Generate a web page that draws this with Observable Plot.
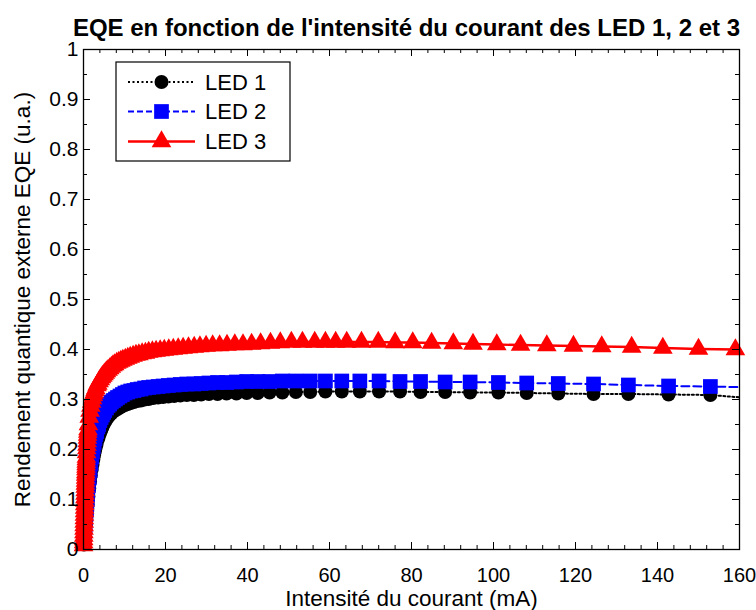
<!DOCTYPE html>
<html><head><meta charset="utf-8">
<script src="https://cdn.jsdelivr.net/npm/d3@7"></script>
<script src="https://cdn.jsdelivr.net/npm/@observablehq/plot@0.6"></script>
<style>
body{margin:0;background:#fff;}
#chart svg{font-family:"Liberation Sans",Arial,sans-serif;}
</style></head><body><div id="chart"></div>
<script>
// Current (mA) sample points, LED 1 and LED 2 share the same sweep
const currentLED12 = [0.1,0.2,0.3,0.4,0.5,0.6,0.7,0.8,0.9,1.0,1.2,1.4,1.6,1.8,2.0,2.2,2.4,2.6,2.8,3.0,3.2,3.5,3.7,4.0,4.3,4.6,4.9,5.2,5.6,6.0,6.4,6.8,7.3,7.8,8.3,8.9,9.5,10.1,10.8,11.5,12.3,13.1,14.0,14.9,15.9,17.0,18.2,19.4,20.7,22.1,23.6,25.2,26.9,28.7,30.6,32.7,34.9,37.3,39.8,42.5,45.4,48.5,51.8,55.3,59.0,63.0,67.4,72.1,77.2,82.2,88.2,94.3,101.2,108.1,115.8,124.4,132.9,142.7,152.9,163.6];
const eqeLED1 = [0.01,0.02,0.03,0.04,0.05,0.058,0.066,0.074,0.082,0.09,0.106,0.122,0.136,0.149,0.16,0.17,0.18,0.189,0.197,0.205,0.211,0.22,0.225,0.232,0.238,0.244,0.25,0.255,0.26,0.265,0.269,0.272,0.276,0.279,0.281,0.284,0.287,0.289,0.291,0.293,0.295,0.297,0.298,0.3,0.301,0.303,0.304,0.305,0.306,0.307,0.308,0.309,0.309,0.31,0.311,0.311,0.312,0.312,0.313,0.313,0.314,0.314,0.315,0.315,0.316,0.316,0.316,0.316,0.316,0.315,0.315,0.314,0.314,0.313,0.312,0.311,0.311,0.31,0.309,0.302];
const eqeLED2 = [0.012,0.024,0.036,0.048,0.06,0.07,0.08,0.09,0.1,0.11,0.127,0.143,0.158,0.172,0.185,0.195,0.205,0.214,0.222,0.23,0.236,0.245,0.25,0.258,0.264,0.269,0.274,0.278,0.283,0.288,0.291,0.295,0.298,0.301,0.304,0.307,0.31,0.313,0.315,0.317,0.318,0.32,0.321,0.323,0.324,0.325,0.326,0.327,0.328,0.329,0.33,0.331,0.331,0.332,0.333,0.334,0.334,0.335,0.336,0.336,0.336,0.337,0.337,0.337,0.337,0.337,0.337,0.337,0.336,0.336,0.335,0.335,0.334,0.333,0.332,0.331,0.329,0.327,0.326,0.324];
// LED 3 sweep (very dense near 0 mA, as in the reference)
const currentLED3 = [0,0.025,0.05,0.075,0.1,0.125,0.15,0.175,0.2,0.225,0.25,0.275,0.3,0.325,0.35,0.375,0.4,0.425,0.45,0.475,0.5,0.525,0.55,0.575,0.6,0.625,0.65,0.675,0.7,0.75,0.8,0.85,0.9,0.95,1.0,1.05,1.1,1.2,1.4,1.6,1.8,2.0,2.2,2.4,2.6,2.8,3.0,3.3,3.5,3.8,4.1,4.4,4.7,5.0,5.3,5.6,6.0,6.4,6.8,7.2,7.6,8.1,8.6,9.1,9.6,10.2,10.8,11.4,12.1,12.8,13.5,14.3,15.1,15.9,16.8,17.7,18.7,19.7,20.8,21.9,23.1,24.3,25.6,27.0,28.4,29.9,31.5,33.2,35.0,36.9,38.9,41.0,43.2,45.6,48.0,50.7,53.4,56.4,59.0,61.5,64.2,67.8,71.9,76.0,80.3,84.9,90.2,95.0,100.8,106.6,113.0,119.5,126.4,133.7,141.3,150.0,159.0,168.0];
const eqeLED3 = [0.008,0.014,0.02,0.027,0.034,0.041,0.048,0.055,0.062,0.069,0.076,0.083,0.09,0.097,0.104,0.111,0.118,0.125,0.131,0.137,0.143,0.149,0.154,0.16,0.165,0.17,0.175,0.18,0.185,0.194,0.202,0.209,0.216,0.223,0.229,0.235,0.24,0.25,0.265,0.277,0.287,0.295,0.302,0.308,0.313,0.318,0.322,0.328,0.331,0.336,0.34,0.344,0.347,0.35,0.353,0.356,0.359,0.362,0.365,0.368,0.37,0.373,0.375,0.377,0.379,0.381,0.383,0.385,0.387,0.389,0.39,0.392,0.393,0.395,0.396,0.397,0.398,0.399,0.4,0.401,0.402,0.403,0.404,0.405,0.406,0.407,0.408,0.408,0.409,0.41,0.41,0.411,0.412,0.413,0.414,0.415,0.415,0.415,0.415,0.415,0.415,0.415,0.415,0.414,0.414,0.413,0.412,0.411,0.41,0.409,0.408,0.407,0.406,0.405,0.403,0.401,0.4,0.398];

const seriesNames = ["LED 1", "LED 2", "LED 3"];
const seriesColors = ["#000000", "#0000ff", "#ff0000"];
const xTicks = [0,20,40,60,80,100,120,140,160];
const xMinorTicks = [4,8,12,16,24,28,32,36,44,48,52,56,64,68,72,76,84,88,92,96,104,108,112,116,124,128,132,136,144,148,152,156];
const yTicks = [0,0.1,0.2,0.3,0.4,0.5,0.6,0.7,0.8,0.9,1];
const yTickLabels = ["0","0.1","0.2","0.3","0.4","0.5","0.6","0.7","0.8","0.9","1"];
const yMinorTicks = [0.05,0.15,0.25,0.35,0.45,0.55,0.65,0.75,0.85,0.95];
const titleText = "EQE en fonction de l'intensité du courant des LED 1, 2 et 3";
const xLabel = "Intensité du courant (mA)";
const yLabel = "Rendement quantique externe EQE (u.a.)";

const led1 = currentLED12.map((x, i) => ({x, y: eqeLED1[i]}));
const led2 = currentLED12.map((x, i) => ({x, y: eqeLED2[i]}));
const led3 = currentLED3.map((x, i) => ({x, y: eqeLED3[i]}));
const inside = d => d.x <= 160;

const W = 756, H = 610, mL = 83, mR = 17, mT = 49, mB = 61;
const fw = W - mL - mR, fh = H - mT - mB;
const FONT = "Liberation Sans, Arial, sans-serif";

const plot = Plot.plot({
  width: W, height: H,
  marginLeft: mL, marginRight: mR, marginTop: mT, marginBottom: mB,
  x: {domain: [0, 160]},
  y: {domain: [0, 1]},
  style: {fontFamily: FONT, fontSize: "21px", color: "black", background: "white", overflow: "visible"},
  marks: [
    Plot.line(led1, {x: "x", y: "y", stroke: seriesColors[0], strokeWidth: 2, strokeDasharray: "2,2.5", clip: true}),
    Plot.dot(led1.filter(inside), {x: "x", y: "y", symbol: "circle", r: 7, fill: seriesColors[0]}),
    Plot.line(led2, {x: "x", y: "y", stroke: seriesColors[1], strokeWidth: 2, strokeDasharray: "8,4", clip: true}),
    Plot.dot(led2.filter(inside), {x: "x", y: "y", symbol: "square", r: 8.3, fill: seriesColors[1]}),
    Plot.line(led3, {x: "x", y: "y", stroke: seriesColors[2], strokeWidth: 2.3, clip: true}),
    Plot.dot(led3.filter(inside), {x: "x", y: "y", symbol: "triangle", r: 7.3, fill: seriesColors[2]}),
    // inward ticks on all four sides
    Plot.tickX(xTicks, {insetTop: fh - 7, stroke: "black"}),
    Plot.tickX(xTicks, {insetBottom: fh - 7, stroke: "black"}),
    Plot.tickX(xMinorTicks, {insetTop: fh - 4, stroke: "black"}),
    Plot.tickX(xMinorTicks, {insetBottom: fh - 4, stroke: "black"}),
    Plot.tickY(yTicks, {insetRight: fw - 7, stroke: "black"}),
    Plot.tickY(yTicks, {insetLeft: fw - 7, stroke: "black"}),
    Plot.tickY(yMinorTicks, {insetRight: fw - 4, stroke: "black"}),
    Plot.tickY(yMinorTicks, {insetLeft: fw - 4, stroke: "black"}),
    Plot.frame({stroke: "black", strokeWidth: 1.3}),
    Plot.axisX({ticks: xTicks, tickSize: 0, tickPadding: 18, label: null, fontSize: 20}),
    Plot.axisY({ticks: yTicks, tickSize: 0, tickPadding: 5, label: null, fontSize: 21,
      tickFormat: d => yTickLabels[yTicks.indexOf(d)]}),
    Plot.text([xLabel], {text: d => d, frameAnchor: "bottom", dy: 49, lineAnchor: "middle", textAnchor: "middle", fontSize: 22.5}),
    Plot.text([yLabel], {text: d => d, frameAnchor: "left", dx: -61, rotate: -90, lineAnchor: "middle", textAnchor: "middle", fontSize: 22.5}),
    Plot.text([titleText], {text: d => d, frameAnchor: "top", dy: -21, dx: -5, lineAnchor: "middle", textAnchor: "middle", fontSize: 24, fontWeight: "bold"})
  ]
});
document.getElementById("chart").appendChild(plot);

// Legend box (top-left, inside the axes)
const svg = d3.select(plot);
const lg = svg.append("g").attr("font-family", FONT).attr("font-size", 22).attr("text-anchor", "start");
lg.append("rect").attr("x", 116).attr("y", 62).attr("width", 174).attr("height", 99)
  .attr("fill", "white").attr("stroke", "black").attr("stroke-width", 1.2);
const rowY = [82, 111.5, 141.5];
const dashes = ["2,2.5", "6,3", null];
const symbols = [d3.symbolCircle, d3.symbolSquare, d3.symbolTriangle];
const symSize = [Math.PI * 49, Math.PI * 8.3 * 8.3, Math.PI * 7.3 * 7.3];
seriesNames.forEach((name, i) => {
  const ln = lg.append("line").attr("x1", 128).attr("x2", 195).attr("y1", rowY[i]).attr("y2", rowY[i])
    .attr("stroke", seriesColors[i]).attr("stroke-width", i === 2 ? 2.3 : 2);
  if (dashes[i]) ln.attr("stroke-dasharray", dashes[i]);
  lg.append("path").attr("d", d3.symbol(symbols[i], symSize[i])())
    .attr("transform", `translate(161.5,${rowY[i]})`).attr("fill", seriesColors[i]);
  lg.append("text").attr("x", 205).attr("y", rowY[i]).attr("dy", "0.36em").attr("text-anchor", "start").text(name);
});
</script></body></html>
